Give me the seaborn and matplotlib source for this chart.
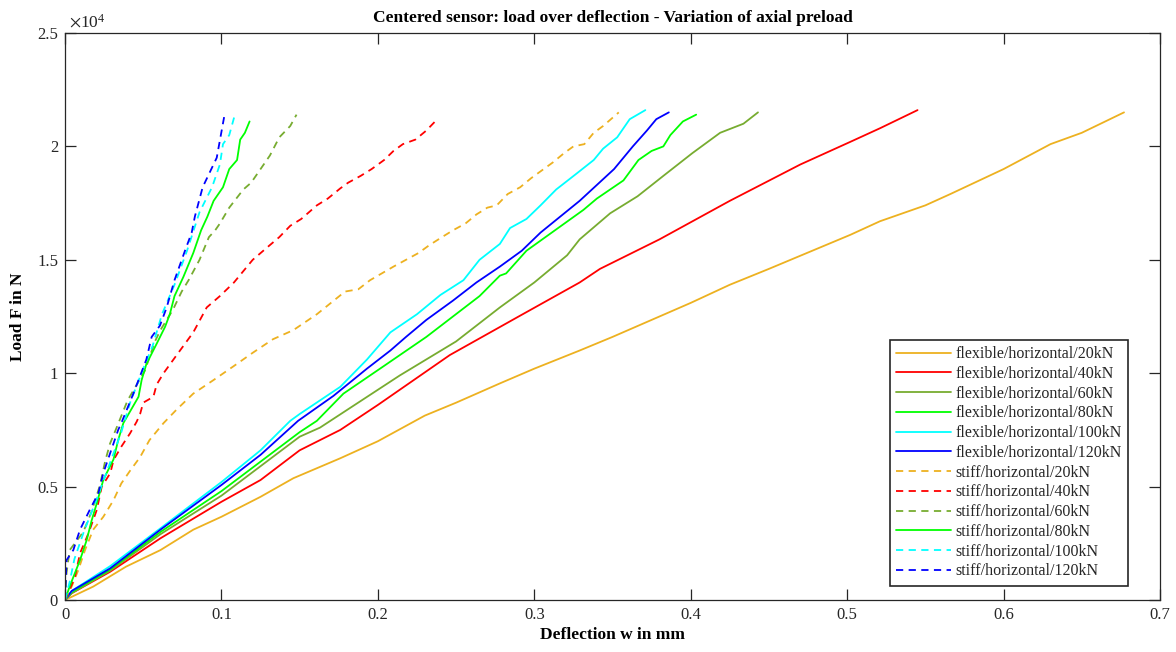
import matplotlib
matplotlib.use("Agg")
import matplotlib.pyplot as plt
import seaborn as sns
import pandas as pd
import numpy as np

# deflection in mm, load in kN
flex20_w = [0, 0.018, 0.039, 0.061, 0.082, 0.1, 0.125, 0.146, 0.176, 0.2, 0.23, 0.25, 0.278, 0.3, 0.329, 0.35,
            0.4, 0.425, 0.45, 0.502, 0.521, 0.55, 0.566, 0.6, 0.63, 0.65, 0.677]
flex20_f = [0, 0.59, 1.47, 2.2, 3.1, 3.67, 4.55, 5.37, 6.25, 7.0, 8.13, 8.7, 9.55, 10.2, 11.0, 11.6,
            13.1, 13.9, 14.6, 16.1, 16.7, 17.4, 17.9, 19.0, 20.1, 20.6, 21.5]

flex40_w = [0, 0.0043, 0.029, 0.061, 0.084, 0.1, 0.125, 0.15, 0.176, 0.2, 0.246, 0.29, 0.329, 0.342, 0.38,
            0.425, 0.47, 0.502, 0.521, 0.545]
flex40_f = [0, 0.3, 1.25, 2.72, 3.67, 4.33, 5.29, 6.6, 7.5, 8.6, 10.8, 12.5, 14.0, 14.6, 15.9,
            17.6, 19.2, 20.2, 20.8, 21.6]

flex60_w = [0, 0.0043, 0.029, 0.061, 0.1, 0.125, 0.15, 0.163, 0.214, 0.25, 0.278, 0.3, 0.321, 0.329, 0.3485,
            0.366, 0.3825, 0.401, 0.4188, 0.4337, 0.443]
flex60_f = [0, 0.3, 1.3, 2.9, 4.6, 5.9, 7.2, 7.6, 9.9, 11.4, 12.9, 14.0, 15.2, 15.9, 17.05,
            17.8, 18.7, 19.7, 20.6, 21.0, 21.5]

flex80_w = [0, 0.0043, 0.029, 0.061, 0.1, 0.125, 0.15, 0.161, 0.178, 0.2035, 0.231, 0.248, 0.265, 0.278, 0.282,
            0.295, 0.3314, 0.34, 0.3485, 0.357, 0.3666, 0.375, 0.3825, 0.387, 0.395, 0.4035]
flex80_f = [0, 0.35, 1.35, 3.0, 4.8, 6.1, 7.4, 7.9, 9.1, 10.3, 11.6, 12.5, 13.4, 14.3, 14.4,
            15.4, 17.2, 17.7, 18.1, 18.5, 19.4, 19.8, 20.0, 20.5, 21.1, 21.4]

flex100_w = [0, 0.0043, 0.029, 0.061, 0.1, 0.125, 0.144, 0.15, 0.176, 0.193, 0.208, 0.225, 0.24, 0.2547, 0.265,
             0.278, 0.2845, 0.295, 0.304, 0.314, 0.327, 0.338, 0.344, 0.353, 0.361, 0.371]
flex100_f = [0, 0.4, 1.5, 3.16, 5.2, 6.6, 7.9, 8.2, 9.4, 10.6, 11.8, 12.6, 13.45, 14.1, 15.0,
             15.7, 16.4, 16.8, 17.4, 18.1, 18.8, 19.4, 19.9, 20.4, 21.2, 21.6]

flex120_w = [0, 0.0043, 0.029, 0.061, 0.1, 0.125, 0.149, 0.1716, 0.193, 0.208, 0.218, 0.231, 0.248, 0.263, 0.278,
             0.292, 0.304, 0.3165, 0.329, 0.34, 0.351, 0.357, 0.363, 0.372, 0.378, 0.386]
flex120_f = [0, 0.4, 1.4, 3.1, 5.07, 6.4, 7.9, 9.0, 10.2, 11.0, 11.6, 12.35, 13.2, 14.0, 14.7,
             15.4, 16.2, 16.9, 17.6, 18.3, 19.0, 19.5, 20.0, 20.7, 21.2, 21.5]

stiff20_w = [0, 0.0043, 0.0085, 0.0128, 0.018, 0.0245, 0.031, 0.036, 0.0416, 0.048, 0.054, 0.063, 0.0714,
             0.082, 0.095, 0.1076, 0.12, 0.133, 0.146, 0.161, 0.179, 0.1875, 0.195, 0.2025, 0.21, 0.218,
             0.226, 0.233, 0.241, 0.248, 0.256, 0.263, 0.27, 0.276, 0.283, 0.291, 0.298, 0.306, 0.312,
             0.319, 0.325, 0.332, 0.338, 0.344, 0.354]
stiff20_f = [0, 0.6, 1.32, 2.2, 3.1, 3.67, 4.4, 5.14, 5.7, 6.3, 7.05, 7.8, 8.4,
             9.1, 9.7, 10.3, 10.9, 11.5, 11.9, 12.6, 13.6, 13.7, 14.1, 14.4, 14.7, 15.0,
             15.3, 15.65, 16.0, 16.3, 16.6, 17.0, 17.3, 17.4, 17.9, 18.2, 18.6, 19.0, 19.3,
             19.7, 20.0, 20.1, 20.6, 20.9, 21.5]

stiff40_w = [0, 0.002, 0.0064, 0.0096, 0.015, 0.0203, 0.0235, 0.029, 0.031, 0.036, 0.0416, 0.0458, 0.048,
             0.05, 0.0565, 0.0586, 0.063, 0.0714, 0.0767, 0.082, 0.0906, 0.099, 0.108, 0.114, 0.12, 0.131,
             0.137, 0.144, 0.151, 0.161, 0.168, 0.176, 0.181, 0.189, 0.196, 0.204, 0.21, 0.216, 0.224,
             0.231, 0.238]
stiff40_f = [0, 0.3, 1.03, 2.06, 2.94, 3.97, 5.0, 5.6, 6.17, 6.76, 7.35, 7.86, 8.2,
             8.7, 8.96, 9.5, 10.0, 10.8, 11.3, 11.8, 12.9, 13.4, 14.0, 14.5, 15.0, 15.65,
             16.0, 16.5, 16.8, 17.4, 17.7, 18.15, 18.4, 18.7, 19.0, 19.4, 19.8, 20.1, 20.3,
             20.7, 21.2]

stiff60_w = [0, 0.001, 0.003, 0.0117, 0.017, 0.0224, 0.0256, 0.0288, 0.033, 0.04, 0.051, 0.0575, 0.061,
             0.069, 0.0746, 0.079, 0.086, 0.092, 0.096, 0.099, 0.105, 0.114, 0.119, 0.125, 0.131, 0.137,
             0.144, 0.148]
stiff60_f = [0, 1.2, 2.2, 3.0, 3.9, 5.07, 6.1, 6.9, 7.6, 8.8, 10.1, 11.4, 11.9,
             12.8, 13.6, 14.1, 15.0, 16.0, 16.3, 16.6, 17.3, 18.1, 18.4, 19.0, 19.6, 20.4,
             20.9, 21.4]

stiff80_w = [0, 0.003, 0.0096, 0.0139, 0.017, 0.0203, 0.0245, 0.031, 0.034, 0.0373, 0.047, 0.049, 0.052,
             0.0586, 0.064, 0.067, 0.07, 0.0757, 0.082, 0.087, 0.091, 0.095, 0.101, 0.105, 0.11, 0.112,
             0.115, 0.118]
stiff80_f = [0, 0.6, 1.76, 2.65, 3.5, 4.26, 5.3, 6.2, 7.05, 7.8, 8.96, 9.7, 10.4,
             11.3, 12.05, 12.6, 13.4, 14.25, 15.3, 16.3, 16.9, 17.6, 18.2, 19.0, 19.4, 20.3,
             20.6, 21.1]

stiff100_w = [0, 0.003, 0.006, 0.012, 0.02, 0.028, 0.036, 0.0416, 0.05, 0.056, 0.062, 0.07, 0.078,
              0.086, 0.094, 0.099, 0.101, 0.105, 0.109]
stiff100_f = [0, 0.8, 1.8, 3.0, 4.4, 5.9, 7.4, 8.7, 10.2, 11.2, 12.6, 13.9, 15.4,
              17.1, 18.2, 19.2, 20.1, 20.5, 21.5]

stiff120_w = [0, 0.001, 0.0053, 0.0096, 0.016, 0.0213, 0.0245, 0.029, 0.034, 0.036, 0.0437, 0.052,
              0.0554, 0.0607, 0.065, 0.07, 0.0767, 0.081, 0.083, 0.088, 0.097, 0.102]
stiff120_f = [0, 1.76, 2.2, 3.1, 4.0, 4.7, 5.6, 6.5, 7.5, 7.8, 9.1, 10.6,
              11.6, 12.1, 12.9, 14.1, 15.4, 16.2, 16.9, 18.2, 19.5, 21.4]

preloads = ["20kN", "40kN", "60kN", "80kN", "100kN", "120kN"]
colors = ["#EDB120", "#FF0000", "#77AC30", "#00FF00", "#00FFFF", "#0000FF"]

flex_w = [flex20_w, flex40_w, flex60_w, flex80_w, flex100_w, flex120_w]
flex_f = [flex20_f, flex40_f, flex60_f, flex80_f, flex100_f, flex120_f]
stiff_w = [stiff20_w, stiff40_w, stiff60_w, stiff80_w, stiff100_w, stiff120_w]
stiff_f = [stiff20_f, stiff40_f, stiff60_f, stiff80_f, stiff100_f, stiff120_f]
# stiff/80kN is drawn solid in the original
stiff_styles = ["--", "--", "--", "-", "--", "--"]

sns.set_theme(style="white")
plt.rcParams["font.family"] = ["Liberation Serif", "DejaVu Serif"]
plt.rcParams["mathtext.fontset"] = "stix"

fig = plt.figure(figsize=(11.76, 6.52), dpi=100)
ax = fig.add_axes([65 / 1176, 52 / 652, 1095 / 1176, 567 / 652])

dash = (0, (4, 3))
for i, p in enumerate(preloads):
    sns.lineplot(x=flex_w[i], y=np.array(flex_f[i]) * 1000, ax=ax, color=colors[i], lw=1.3,
                 sort=False, estimator=None, label=f"flexible/horizontal/{p}")
for i, p in enumerate(preloads):
    ls = dash if stiff_styles[i] == "--" else "-"
    sns.lineplot(x=stiff_w[i], y=np.array(stiff_f[i]) * 1000, ax=ax, color=colors[i], lw=1.3,
                 linestyle=ls, sort=False, estimator=None, label=f"stiff/horizontal/{p}")

ax.set_xlim(0, 0.7)
ax.set_ylim(0, 25000)
ax.set_xticks(np.arange(0, 0.71, 0.1))
ax.set_xticklabels(["0", "0.1", "0.2", "0.3", "0.4", "0.5", "0.6", "0.7"])
ax.set_yticks(np.arange(0, 25001, 5000))
ax.set_yticklabels(["0", "0.5", "1", "1.5", "2", "2.5"])

edge = "#262626"
for s in ax.spines.values():
    s.set_visible(True)
    s.set_color(edge)
    s.set_linewidth(0.9)
ax.tick_params(direction="in", length=8, width=0.9, color=edge, labelcolor=edge,
               labelsize=12, top=True, right=True, bottom=True, left=True, pad=5)
ax.grid(False)

ax.text(0.004, 1.003, r"$\times\mathregular{10^{4}}$", transform=ax.transAxes,
        ha="left", va="bottom", fontsize=12.5, color=edge)
ax.set_title("Centered sensor: load over deflection - Variation of axial preload",
             fontsize=12.5, fontweight="bold", color="black", pad=8)
ax.set_xlabel("Deflection w in mm", fontsize=12.5, fontweight="bold", color="black", labelpad=3)
ax.set_ylabel("Load F in N", fontsize=12.5, fontweight="bold", color="black", labelpad=8)

leg = ax.legend(loc="lower right", bbox_to_anchor=(0.971, 0.025), borderaxespad=0, fontsize=11.5,
                frameon=True, fancybox=False, framealpha=1, edgecolor=edge,
                handlelength=3.4, handletextpad=0.3, labelspacing=0.235, borderpad=0.4)
leg.get_frame().set_linewidth(1.2)

fig.savefig("out.png", dpi=100, facecolor="white")
